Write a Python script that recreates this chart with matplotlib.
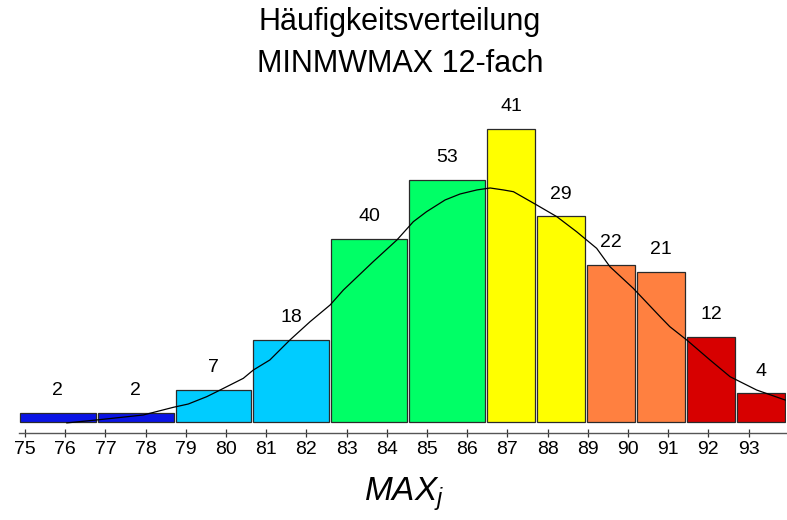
import numpy as np
import matplotlib
matplotlib.use('Agg')
import matplotlib.pyplot as plt

plt.rcParams['font.family'] = ['Liberation Sans', 'DejaVu Sans']
plt.rcParams['mathtext.fontset'] = 'custom'
plt.rcParams['mathtext.it'] = 'Liberation Sans:italic'
plt.rcParams['mathtext.rm'] = 'Liberation Sans'

# class edges (MAX values) and counts per class
edges = np.array([74.85, 76.78, 78.72, 80.65, 82.59, 84.53, 86.47,
                  87.71, 88.96, 90.20, 91.44, 92.69, 93.93])
counts = np.array([2, 2, 7, 18, 40, 53, 41, 29, 22, 21, 12, 4])
colors = ['#0a14e6', '#0a14e6', '#00ccff', '#00ccff', '#00ff66', '#00ff66',
          '#ffff00', '#ffff00', '#ff8040', '#ff8040', '#d70000', '#d70000']

# density curve
curve_x = [76.04, 76.78, 77.94, 78.69, 79.06, 79.52, 79.77, 80.43, 80.68, 81.09,
           81.59, 82.09, 82.59, 82.92, 83.66, 84.25, 84.66, 84.99, 85.45, 85.82,
           86.24, 86.57, 86.90, 87.15, 87.73, 88.23, 88.72, 89.22, 89.55, 90.13,
           90.80, 91.04, 91.46, 92.04, 92.54, 93.20, 93.91]
curve_y = [-0.1, 0.23, 0.79, 1.66, 2.03, 2.86, 3.42, 4.93, 5.87, 7.00,
           9.26, 11.32, 13.21, 14.90, 18.09, 20.54, 22.61, 23.74, 25.06, 25.73,
           26.19, 26.41, 26.19, 25.99, 24.49, 23.17, 21.48, 19.60, 17.53, 15.09,
           11.88, 10.76, 9.26, 7.00, 5.11, 3.61, 2.48]

ticks = list(range(75, 94))

widths = np.diff(edges)
heights = counts / widths

fig = plt.figure(figsize=(7.87, 5.2), dpi=100)
ax = fig.add_axes([19 / 787, 87 / 520, 767 / 787, 333 / 520])

gap = 0.05
ax.bar(edges[:-1] + gap / 2, heights, width=widths - gap, align='edge',
       color=colors, edgecolor='#2a2a2a', linewidth=0.9)
ax.plot(curve_x, curve_y, color='black', linewidth=0.9)

for left, w, h, c in zip(edges[:-1], widths, heights, counts):
    ax.annotate(str(c), (left + w / 2, h), xytext=(0, 10), textcoords='offset points',
                ha='center', va='bottom', fontsize=14)

ax.set_xlim(74.85, 93.93)
ax.set_ylim(-1.24, 36.34)
ax.set_xticks(ticks)
ax.set_xticklabels([str(t) for t in ticks])
ax.tick_params(axis='x', direction='inout', length=6, width=0.9, color='#333333',
               labelsize=14, pad=3)
ax.set_yticks([])
for s in ['left', 'top', 'right']:
    ax.spines[s].set_visible(False)
ax.spines['bottom'].set_color('#555555')
ax.spines['bottom'].set_linewidth(1.0)

fig.text(400 / 787, 1 - 43 / 520, 'Häufigkeitsverteilung\nMINMWMAX 12-fach',
         ha='center', va='center', fontsize=22, linespacing=1.48)
fig.text(404 / 787, 1 - 494 / 520, r'$MAX_j$', ha='center', va='center', fontsize=24)

fig.savefig('out.png', dpi=100)
